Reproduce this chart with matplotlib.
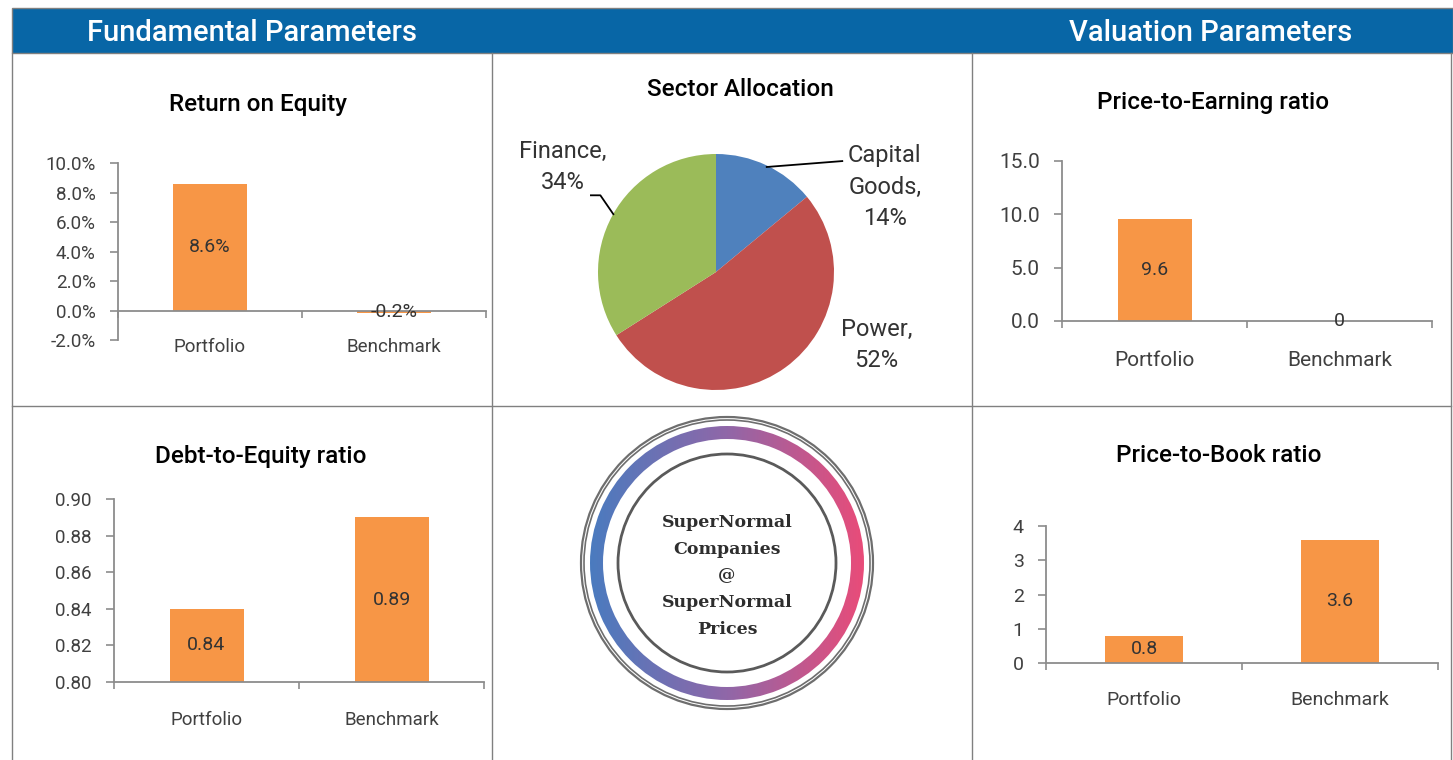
import numpy as np
import matplotlib
matplotlib.use("Agg")
import matplotlib.pyplot as plt
from matplotlib.patches import Rectangle, Circle, Wedge
from matplotlib.lines import Line2D
from matplotlib.colors import LinearSegmentedColormap

plt.rcParams['font.family'] = ['Roboto', 'DejaVu Sans']

# --- data ---
categories = ['Portfolio', 'Benchmark']
roe = [8.6, -0.2]          # %
pe = [9.6, 0]
de = [0.84, 0.89]
pb = [0.8, 3.6]

sectors = ['Capital\nGoods', 'Power', 'Finance']
sector_share = [14, 52, 34]

header_left = 'Fundamental Parameters'
header_right = 'Valuation Parameters'
logo_text = 'SuperNormal\nCompanies\n@\nSuperNormal\nPrices'

# --- layout helpers (pixel coords, origin top-left) ---
W, H = 1453, 760
fig = plt.figure(figsize=(W / 100, H / 100), dpi=100)
fig.patch.set_facecolor('white')


def box(x0, y0, x1, y1):
    return [x0 / W, 1 - y1 / H, (x1 - x0) / W, (y1 - y0) / H]


def fx(x):
    return x / W


def fy(y):
    return 1 - y / H


BAR = '#F79646'
AXC = '#8C8C8C'
TXT = '#404040'
GRID = '#808080'

# header bar
fig.patches.append(Rectangle((fx(12), fy(53)), fx(1453) - fx(12), fy(8) - fy(53),
                             transform=fig.transFigure, facecolor='#0866A6',
                             edgecolor=GRID, linewidth=1))
fig.text(fx(252), fy(33), header_left, color='white', fontsize=21,
         ha='center', va='center', weight='medium')
fig.text(fx(1211), fy(33), header_right, color='white', fontsize=21,
         ha='center', va='center', weight='medium')

# cell borders
for x in [12, 492, 972, 1451]:
    fig.lines.append(Line2D([fx(x), fx(x)], [fy(53), fy(760)], color=GRID,
                            linewidth=1, transform=fig.transFigure))
fig.lines.append(Line2D([fx(12), fx(1451)], [fy(406), fy(406)], color=GRID,
                        linewidth=1, transform=fig.transFigure))


def bar_panel(rect, values, ylim, yticks, yfmt, vfmt, title, title_xy,
              tick_size, pad):
    ax = fig.add_axes(box(*rect))
    x = np.arange(len(categories))
    ax.bar(x, values, width=0.4, color=BAR)
    base = max(0, ylim[0])
    for xi, v in zip(x, values):
        mid = (base + v) / 2 if v >= 0 else v / 2
        ax.text(xi, mid, vfmt(v), ha='center', va='center',
                fontsize=14, color='#333333')
    ax.set_xlim(-0.5, len(categories) - 0.5)
    ax.set_ylim(*ylim)
    ax.set_yticks(yticks)
    ax.set_yticklabels([yfmt(t) for t in yticks])
    ax.set_xticks(x)
    ax.set_xticklabels(categories)
    ax.set_xticks(np.arange(len(categories) + 1) - 0.5, minor=True)
    ax.tick_params(axis='x', which='major', length=0, pad=pad,
                   labelsize=tick_size, labelcolor=TXT)
    ax.tick_params(axis='x', which='minor', length=5, width=1.2, color=AXC)
    ax.tick_params(axis='y', length=6, width=1.2, color=AXC, pad=10,
                   labelsize=tick_size, labelcolor=TXT)
    for s in ['top', 'right']:
        ax.spines[s].set_visible(False)
    for s in ['left', 'bottom']:
        ax.spines[s].set_color(AXC)
        ax.spines[s].set_linewidth(1.3)
    if ylim[0] < 0:
        ax.spines['bottom'].set_position(('data', 0))
    ax.patch.set_alpha(0)
    fig.text(fx(title_xy[0]), fy(title_xy[1]), title, fontsize=17.5,
             ha='center', va='center', color='black', weight='medium')
    return ax


bar_panel((118, 163, 486, 340), roe, (-2, 10), np.arange(-2, 11, 2),
          lambda t: f'{t:.1f}%', lambda v: f'{v:.1f}%',
          'Return on Equity', (258, 104), 13.5, 20)
bar_panel((1062, 161, 1432, 321), pe, (0, 15), [0, 5, 10, 15],
          lambda t: f'{t:.1f}', lambda v: f'{v:g}',
          'Price-to-Earning ratio', (1213, 102), 15, 21.5)
bar_panel((114, 499, 484, 682), de, (0.80, 0.90),
          [0.80, 0.82, 0.84, 0.86, 0.88, 0.90],
          lambda t: f'{t:.2f}', lambda v: f'{v:g}',
          'Debt-to-Equity ratio', (261, 456), 13.5, 21)
bar_panel((1046, 526, 1438, 663), pb, (0, 4), [0, 1, 2, 3, 4],
          lambda t: f'{t:g}', lambda v: f'{v:g}',
          'Price-to-Book ratio', (1219, 456), 14, 20.5)

# --- pie ---
r_px = 118
cx, cy = 716, 272
half = 170
pax = fig.add_axes(box(cx - half, cy - half, cx + half, cy + half))
pax.pie(sector_share, colors=['#4F81BD', '#C0504D', '#9BBB59'],
        startangle=90, counterclock=False, radius=1)
lim = half / r_px
pax.set_xlim(-lim, lim)
pax.set_ylim(-lim, lim)
pax.set_aspect('equal')
pax.axis('off')
label_pos = [(1.43, 0.72), (1.36, -0.62), (-1.30, 0.89)]
for name, share, (lx, ly) in zip(sectors, sector_share, label_pos):
    pax.text(lx, ly, f'{name},\n{share}%', ha='center', va='center',
             fontsize=17, color='#333333', linespacing=1.45)
pax.plot([0.43, 1.07], [0.89, 0.94], color='black', lw=1.3, clip_on=False)
pax.plot([-1.06, -0.98, -0.87], [0.65, 0.65, 0.49], color='black', lw=1.3,
         clip_on=False)
fig.text(fx(740), fy(90), 'Sector Allocation', fontsize=17.5, ha='center',
         va='center', weight='medium')

# --- logo ---
lcx, lcy = 727, 563
lh = 155
lax = fig.add_axes(box(lcx - lh, lcy - lh, lcx + lh, lcy + lh))
lax.set_xlim(-lh, lh)
lax.set_ylim(-lh, lh)
lax.set_aspect('equal')
lax.axis('off')
cmap = LinearSegmentedColormap.from_list('ring', ['#4A7BBF', '#9067A8', '#E94C79'])
grad = np.linspace(0, 1, 256).reshape(1, -1)
im = lax.imshow(grad, cmap=cmap, extent=(-137, 137, -137, 137), aspect='auto')
ring = Wedge((0, 0), 137, 0, 360, width=13, transform=lax.transData)
im.set_clip_path(ring)
for r, lw in [(146, 1.6), (143, 1.2)]:
    lax.add_patch(Circle((0, 0), r, fill=False, edgecolor='#6E6E6E', lw=lw))
lax.add_patch(Circle((0, 0), 109, fill=False, edgecolor='#5A5A5A', lw=2))
lax.text(0, -13, logo_text, ha='center', va='center', fontsize=12.5,
         weight='heavy', color='#2E2E2E', linespacing=1.75,
         family=['DejaVu Serif'])

fig.savefig('out.png', dpi=100)
